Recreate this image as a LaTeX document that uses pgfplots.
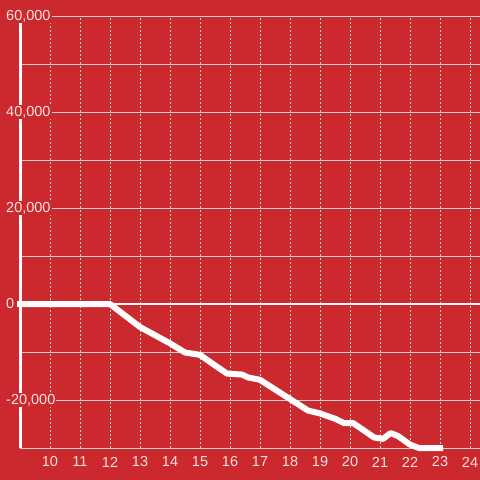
\documentclass[border=0pt]{standalone}
\usepackage{fontspec}
\setmainfont{Liberation Sans}
\usepackage{pgfplots}
\pgfplotsset{compat=1.18}
\definecolor{bgred}{RGB}{204,41,46}
\definecolor{gridc}{RGB}{212,206,206}
\definecolor{txtc}{RGB}{245,226,226}
\begin{document}
\begin{tikzpicture}
\fill[bgred] (0,0) rectangle (480pt,480pt);
\begin{axis}[
  at={(20pt,32pt)}, anchor=south west,
  scale only axis, width=460pt, height=432pt,
  xmin=9, xmax=24.333, ymin=-30000, ymax=60000,
  axis lines=left,
  x axis line style={draw=none},
  y axis line style={draw=white, line width=3pt, -},
  xtick={10,...,24},
  ytick={-20000,0,20000,40000,60000},
  yticklabels={{-20,000},{0},{20,000},{40,000},{60,000}},
  minor ytick={-30000,-10000,10000,30000,50000},
  scaled y ticks=false,
  /pgf/number format/assume math mode=true,
  major tick length=0pt, minor tick length=0pt,
  xmajorgrids, ymajorgrids, yminorgrids,
  x grid style={gridc, line width=0.8pt, dash pattern=on 2pt off 2pt},
  y grid style={gridc, line width=0.9pt, solid},
  ticklabel style={font=\fontsize{14.5}{16}\selectfont, text=txtc},
  yticklabel style={anchor=west, xshift=-15pt, inner sep=1pt, fill=bgred},
  xticklabel style={anchor=center, yshift=-14pt},
  clip=false,
]
\addplot[white, line width=2.5pt, forget plot] coordinates {(9,0) (24.333,0)};
\addplot[white, line width=6pt, line join=round, line cap=butt] coordinates {
(8.9,0) (12,0) (12.5,-2400) (13,-4800) (13.5,-6500) (14,-8200) (14.5,-10100)
(14.8,-10400) (15,-10600) (15.5,-12800) (15.9,-14500) (16.4,-14700) (16.6,-15300)
(17,-15800) (17.5,-17800) (18,-19800) (18.3,-21000) (18.6,-22200) (19,-22800)
(19.5,-23900) (19.8,-24800) (20.1,-24800) (20.5,-26500) (20.8,-27800) (21.1,-28100)
(21.35,-26900) (21.6,-27500) (22,-29300) (22.3,-30000) (23.1,-30000)
};
\end{axis}
\pgfresetboundingbox
\path[use as bounding box] (0,0) rectangle (480pt,480pt);
\end{tikzpicture}
\end{document}
